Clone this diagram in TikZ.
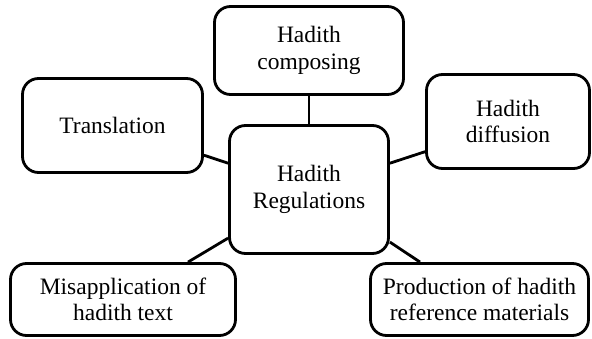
\documentclass[tikz,border=0pt]{standalone}
\usepackage{fontspec}
\setmainfont{Liberation Serif}
\begin{document}
\begin{tikzpicture}[x=1pt,y=-1pt,
  box/.style={draw=black,line width=2.8pt,rounded corners=16pt,fill=white,
    align=center,inner sep=0pt,font=\fontsize{23.5}{26.5}\selectfont},
  link/.style={draw=black,line width=2.8pt}]
\useasboundingbox (0,0) rectangle (592,339);
\node[box,minimum width=189pt,minimum height=88pt] (compose) at (309,50.5) {Hadith\\composing};
\node[box,minimum width=180pt,minimum height=94pt] (trans) at (112.5,125.5) {Translation};
\node[box,minimum width=159pt,minimum height=128pt] (center) at (309,189.5) {Hadith\\Regulations};
\node[box,minimum width=163pt,minimum height=94pt] (diff) at (508,121.5) {Hadith\\diffusion};
\node[box,minimum width=225pt,minimum height=72pt] (misapp) at (123,299.5) {Misapplication of\\hadith text};
\node[box,minimum width=218pt,minimum height=72pt] (prod) at (479.5,299.5) {Production of hadith\\reference materials};
\draw[link] (compose.south) -- (center.north);
\draw[link] (trans.-18) -- (center.162);
\draw[link] (center.18) -- (diff.200);
\draw[link] ([xshift=65pt]misapp.north) -- (center.211);
\draw[link] (center.-33) -- ([xshift=-59.5pt]prod.north);
\end{tikzpicture}
\end{document}
